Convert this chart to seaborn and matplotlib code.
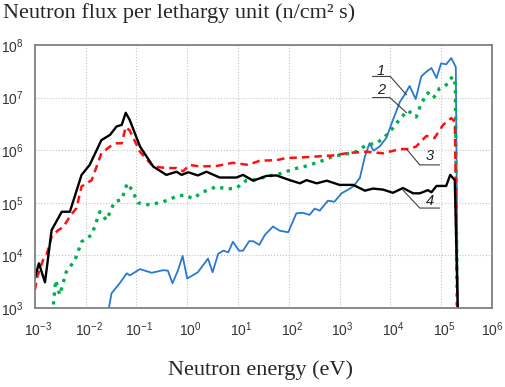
import numpy as np
import pandas as pd
import matplotlib
matplotlib.use("Agg")
import matplotlib.pyplot as plt
import matplotlib.transforms as mtrans
import seaborn as sns

# log10 of neutron energy (eV) and log10 of flux
e1 = [-1.56, -1.49, -1.33, -1.19, -1.13, -0.93, -0.70, -0.47, -0.38, -0.29, -0.18, -0.09, 0.00, 0.21,
      0.41, 0.50, 0.61, 0.71, 0.81, 0.90, 1.02, 1.10, 1.22, 1.30, 1.42, 1.53, 1.69, 1.82, 1.99, 2.15,
      2.28, 2.41, 2.51, 2.61, 2.77, 2.90, 3.04, 3.17, 3.27, 3.40, 3.50, 3.59, 3.67, 3.79, 3.92, 4.05,
      4.19, 4.28, 4.38, 4.50, 4.61, 4.71, 4.81, 4.91, 5.00, 5.10, 5.20, 5.29, 5.33]
f1 = [2.90, 3.28, 3.47, 3.66, 3.62, 3.74, 3.67, 3.72, 3.71, 3.47, 3.72, 3.99, 3.56, 3.68,
      3.94, 3.68, 4.03, 4.09, 4.06, 4.26, 4.09, 4.09, 4.27, 4.27, 4.20, 4.39, 4.55, 4.47, 4.44, 4.80,
      4.81, 4.77, 4.89, 4.85, 5.04, 5.02, 5.18, 5.25, 5.31, 5.47, 5.88, 6.13, 5.99, 6.07, 6.23, 6.57,
      6.92, 7.05, 7.22, 6.97, 7.40, 7.49, 7.56, 7.37, 7.65, 7.63, 7.75, 7.58, 2.50]

e2 = [-2.65, -2.59, -2.51, -2.38, -2.21, -2.08, -1.88, -1.72, -1.59, -1.43, -1.29, -1.18, -1.09, -0.97,
      -0.74, -0.47, -0.21, -0.05, 0.11, 0.31, 0.38, 0.58, 0.77, 0.97, 1.17, 1.37, 1.56, 1.82, 2.09,
      2.35, 2.61, 2.87, 3.14, 3.33, 3.53, 3.73, 3.89, 4.05, 4.22, 4.35, 4.51, 4.61, 4.74, 4.84, 4.91,
      4.97, 5.14, 5.22, 5.28, 5.32]
f2 = [2.90, 3.53, 3.25, 3.69, 3.91, 4.26, 4.39, 4.83, 4.67, 5.02, 5.06, 5.37, 5.25, 5.00,
      4.96, 5.02, 5.12, 5.15, 5.08, 5.21, 5.23, 5.31, 5.26, 5.28, 5.43, 5.44, 5.50, 5.55, 5.64,
      5.70, 5.78, 5.88, 5.93, 5.97, 6.10, 6.13, 6.25, 6.42, 6.63, 6.75, 6.63, 6.89, 7.09, 6.99, 7.06,
      7.18, 7.26, 7.40, 7.25, 2.50]

e3 = [-3.00, -2.95, -2.84, -2.77, -2.67, -2.54, -2.44, -2.31, -2.18, -2.08, -1.88, -1.69, -1.52, -1.39,
      -1.29, -1.21, -1.13, -0.93, -0.67, -0.41, -0.21, -0.08, 0.05, 0.25, 0.58, 0.90, 1.20, 1.43,
      1.76, 1.95, 2.22, 2.55, 2.87, 3.20, 3.53, 3.86, 4.19, 4.38, 4.51, 4.71, 4.87, 5.04, 5.20, 5.27,
      5.33]
f3 = [3.34, 3.60, 3.91, 4.01, 4.36, 4.48, 4.54, 4.74, 4.90, 5.31, 5.43, 5.94, 6.07, 6.13,
      6.13, 6.44, 6.37, 5.97, 5.69, 5.66, 5.66, 5.60, 5.72, 5.69, 5.70, 5.76, 5.72, 5.80,
      5.81, 5.85, 5.86, 5.88, 5.90, 5.95, 5.97, 5.94, 6.02, 6.02, 6.07, 6.27, 6.23, 6.48, 6.61, 6.54,
      2.50]

e4 = [-3.00, -2.92, -2.80, -2.67, -2.47, -2.31, -2.08, -1.92, -1.69, -1.52, -1.39, -1.29, -1.21, -1.13,
      -0.93, -0.67, -0.41, -0.21, -0.11, 0.02, 0.21, 0.38, 0.64, 0.97, 1.10, 1.30, 1.56, 1.76, 2.02,
      2.22, 2.35, 2.55, 2.75, 3.00, 3.27, 3.50, 3.66, 3.86, 4.05, 4.25, 4.45, 4.58, 4.74, 4.81, 4.91,
      5.10, 5.18, 5.27, 5.34]
f4 = [3.57, 3.85, 3.49, 4.48, 4.83, 4.83, 5.53, 5.72, 6.19, 6.29, 6.45, 6.48, 6.71, 6.57,
      6.07, 5.69, 5.53, 5.59, 5.53, 5.58, 5.52, 5.59, 5.48, 5.48, 5.53, 5.42, 5.51, 5.52, 5.43,
      5.37, 5.43, 5.37, 5.42, 5.34, 5.34, 5.23, 5.27, 5.25, 5.19, 5.28, 5.18, 5.18, 5.24, 5.20, 5.32,
      5.32, 5.53, 5.43, 2.50]

x_ticks = [1e-3, 1e-2, 1e-1, 1e0, 1e1, 1e2, 1e3, 1e4, 1e5, 1e6]
y_ticks = [1e3, 1e4, 1e5, 1e6, 1e7, 1e8]

# curve labels: text position and leader line (log10 coords)
labels = ["1", "2", "3", "4"]
label_pos = [(3.81, 7.51), (3.81, 7.14), (4.78, 5.88), (4.78, 5.04)]
leaders = [
    ([3.65, 4.00, 4.32], [7.40, 7.40, 7.05]),
    ([3.65, 3.99, 4.32], [7.00, 7.00, 6.71]),
    ([4.32, 4.58, 4.97], [6.02, 5.72, 5.72]),
    ([4.25, 4.58, 4.97], [5.24, 4.90, 4.90]),
]

sns.set_style("white")
plt.rcParams["font.family"] = ["Liberation Sans", "DejaVu Sans"]
plt.rcParams["mathtext.fontset"] = "custom"
plt.rcParams["mathtext.rm"] = "Liberation Sans"
plt.rcParams["mathtext.it"] = "Liberation Sans:italic"

fig = plt.figure(figsize=(5.05, 3.87), dpi=100)
ax = fig.add_axes([0.069, 0.204, 0.905, 0.680])

curves = [
    (e1, f1, "#2a78d2", "-", 1.3),
    (e2, f2, "#00b050", ":", 2.4),
    (e3, f3, "#ff1010", (0, (3, 2)), 1.8),
    (e4, f4, "black", "-", 1.7),
]
for e, f, c, ls, lw in curves:
    df = pd.DataFrame({"E": 10 ** np.array(e), "F": 10 ** np.array(f)})
    sns.lineplot(data=df, x="E", y="F", ax=ax, color=c, linestyle=ls, linewidth=lw, sort=False)

ax.set_xscale("log")
ax.set_yscale("log")
ax.set_xlim(1e-3, 1e6)
ax.set_ylim(1e3, 1e8)
ax.set_xticks(x_ticks)
ax.set_yticks(y_ticks)
ax.minorticks_off()
ax.tick_params(length=0, labelsize=10, colors="#333333")
ax.tick_params(axis="x", pad=9)
ax.tick_params(axis="y", pad=8)
ax.grid(True, which="major", linestyle=":", color="#c4c4c4", linewidth=0.8)
for s in ax.spines.values():
    s.set_color("#808080")
    s.set_linewidth(1.3)
ax.set_xlabel("")
ax.set_ylabel("")

# the reference centres the "10" on the tick, not the whole label
shift = mtrans.ScaledTranslation(3 / 100, 0, fig.dpi_scale_trans)
for lab in ax.get_xticklabels()[:-1]:
    lab.set_transform(lab.get_transform() + shift)

for lab, (lx, ly), (xs, ys) in zip(labels, label_pos, leaders):
    ax.plot(10 ** np.array(xs), 10 ** np.array(ys), color="#404040", linewidth=0.8)
    ax.text(10 ** lx, 10 ** ly, lab, fontsize=10.5, style="italic", color="#222222",
            ha="center", va="center")

fig.text(0.005, 0.966, "Neutron flux per lethargy unit (n/cm² s)", fontsize=16,
         family="Liberation Serif", ha="left", va="center")
fig.text(0.515, 0.043, "Neutron energy (eV)", fontsize=16,
         family="Liberation Serif", ha="center", va="center")

fig.savefig("out.png", dpi=100)
